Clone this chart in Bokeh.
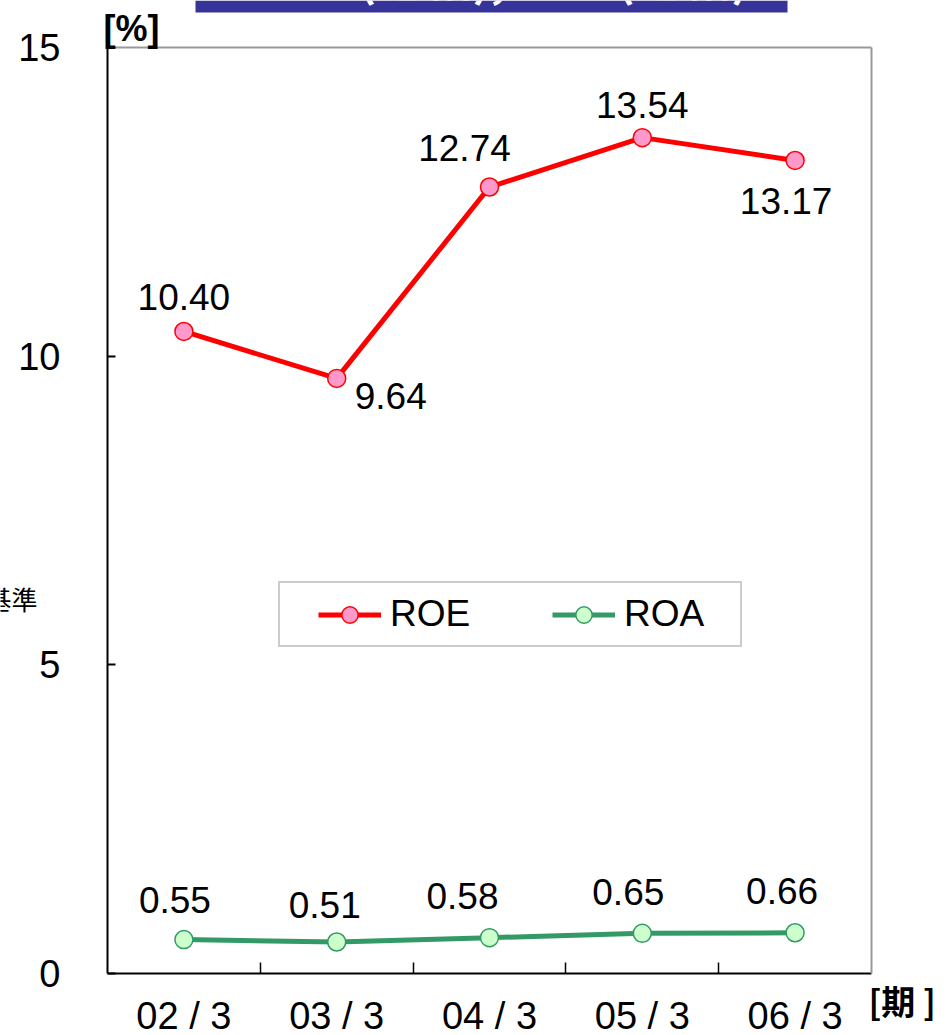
from bokeh.plotting import figure
from bokeh.models import (Range1d, FixedTicker, Legend, LegendItem, ColumnDataSource,
                          Label, BoxAnnotation, LinearAxis)
from bokeh.core.properties import value
from bokeh.embed import file_html
from bokeh.resources import INLINE

# ---------------- data ----------------
categories = ["02/3", "03/3", "04/3", "05/3", "06/3"]
category_labels = ["02 / 3", "03 / 3", "04 / 3", "05 / 3", "06 / 3"]
roe = [10.40, 9.64, 12.74, 13.54, 13.17]
roa = [0.55, 0.51, 0.58, 0.65, 0.66]
y_ticks = [0, 5, 10, 15]
y_max = 15
series_names = ["ROE", "ROA"]

# ---------------- label placement (screen px, down positive) ----------------
roe_dx = [0, 54, -25, 0, -9]
roe_dy = [-34, 18, -39, -33, 41]
roa_dx = [-9, -12, -27, -14, -13]
roa_dy = [-40, -37, -42, -41, -42]

# ---------------- geometry (px) ----------------
W, H = 951, 1035
FL, FR, FT, FB = 107, 871, 47, 973      # plot box inside the canvas
FONT = "Liberation Sans"
JP = "Noto Sans CJK JP"

n = len(categories)
xs = [i + 0.5 for i in range(n)]
kx = (FR - FL) / n
ky = (FB - FT) / y_max

p = figure(width=W, height=H, output_backend="svg", toolbar_location=None,
           x_range=Range1d(-FL / kx, (W - FL) / kx),
           y_range=Range1d(-(H - FB) / ky, FB / ky),
           x_axis_location=None, y_axis_location=None,
           min_border=0, min_border_left=0, min_border_right=0,
           min_border_top=0, min_border_bottom=0,
           background_fill_color="white", border_fill_color="white")
p.title.visible = False
p.outline_line_color = None
p.grid.visible = False

# box top / right (grey)
top_ax = LinearAxis(fixed_location=y_max, bounds=(0, n), ticker=FixedTicker(ticks=[]),
                    axis_line_color="#999999", axis_line_width=2,
                    major_tick_line_color=None, minor_tick_line_color=None,
                    major_label_text_alpha=0)
right_ax = LinearAxis(fixed_location=n, bounds=(0, y_max), ticker=FixedTicker(ticks=[]),
                      axis_line_color="#999999", axis_line_width=2,
                      major_tick_line_color=None, minor_tick_line_color=None,
                      major_label_text_alpha=0)
p.add_layout(top_ax, "above")
p.add_layout(right_ax, "right")

# x axis: labels at category centres, ticks at boundaries (minor ticks)
xa = LinearAxis(fixed_location=0, bounds=(0, n),
                ticker=FixedTicker(ticks=xs, minor_ticks=list(range(1, n))))
xa.major_label_overrides = {x: lab for x, lab in zip(xs, category_labels)}
xa.major_tick_in = 0
xa.major_tick_out = 0
xa.minor_tick_in = 11
xa.minor_tick_out = 0
xa.minor_tick_line_color = "black"
xa.minor_tick_line_width = 1.5
xa.axis_line_color = "black"
xa.axis_line_width = 2
xa.major_label_text_font = FONT
xa.major_label_text_font_size = "38px"
xa.major_label_text_color = "black"
xa.major_label_standoff = 21
p.add_layout(xa, "below")

ya = LinearAxis(fixed_location=0, bounds=(0, y_max), ticker=FixedTicker(ticks=y_ticks))
ya.major_tick_in = 8
ya.major_tick_out = 0
ya.major_tick_line_color = "black"
ya.major_tick_line_width = 2
ya.minor_tick_line_color = None
ya.axis_line_color = "black"
ya.axis_line_width = 2
ya.major_label_text_font = FONT
ya.major_label_text_font_size = "38px"
ya.major_label_text_color = "black"
ya.major_label_standoff = 47
p.add_layout(ya, "left")

# ---------------- series ----------------
src = ColumnDataSource(dict(x=xs, roe=roe, roa=roa,
                            roe_lab=[f"{v:.2f}" for v in roe],
                            roa_lab=[f"{v:.2f}" for v in roa],
                            roe_dx=roe_dx, roe_dy=roe_dy,
                            roa_dx=roa_dx, roa_dy=roa_dy))

roe_line = p.line("x", "roe", source=src, line_color="#FF0000", line_width=5)
roe_pts = p.scatter("x", "roe", source=src, size=18, fill_color="#FF99CC",
                    line_color="#FF0000", line_width=1.5)
roa_line = p.line("x", "roa", source=src, line_color="#339966", line_width=5)
roa_pts = p.scatter("x", "roa", source=src, size=18, fill_color="#CCFFCC",
                    line_color="#339966", line_width=1.5)

p.text("x", "roe", text="roe_lab", source=src, x_offset="roe_dx", y_offset="roe_dy",
       text_font=value(FONT), text_font_size="37px", text_color="black",
       text_align="center", text_baseline="middle")
p.text("x", "roa", text="roa_lab", source=src, x_offset="roa_dx", y_offset="roa_dy",
       text_font=value(FONT), text_font_size="37px", text_color="black",
       text_align="center", text_baseline="middle")

legend_kw = dict(orientation="horizontal", location=(278, H - 647), margin=0,
                 padding=10, spacing=56, glyph_width=63, glyph_height=41,
                 label_width=106, label_standoff=9,
                 label_text_font=FONT, label_text_font_size="37px",
                 label_text_color="black",
                 border_line_color="#999999", border_line_width=2,
                 background_fill_color="white", background_fill_alpha=1)
if "title_location" in Legend.properties():
    legend_kw.update(title=" ", title_location="left", title_standoff=27,
                     title_text_font_size="1px")
legend = Legend(items=[LegendItem(label=series_names[0], renderers=[roe_line, roe_pts]),
                       LegendItem(label=series_names[1], renderers=[roa_line, roa_pts])],
                **legend_kw)
p.add_layout(legend)

# ---------------- decorations ----------------
bar = BoxAnnotation(left=195, right=787, top=H, bottom=H - 12,
                    left_units="screen", right_units="screen",
                    top_units="screen", bottom_units="screen",
                    fill_color="#363399", fill_alpha=1, line_alpha=0)
p.add_layout(bar)
p.add_layout(Label(x=509, y=H + 26, x_units="screen", y_units="screen",
                   text="ROE(連結),  ROA(連結)", text_font=JP, text_font_style="bold",
                   text_font_size="48px", text_color="white",
                   text_align="center", text_baseline="alphabetic"))
p.add_layout(Label(x=103, y=H - 28, x_units="screen", y_units="screen",
                   text="[%]", text_font=FONT, text_font_style="bold",
                   text_font_size="36px", text_color="black",
                   text_align="left", text_baseline="middle"))
p.add_layout(Label(x=868, y=H - 1000, x_units="screen", y_units="screen",
                   text="[期 ]", text_font=JP, text_font_style="bold",
                   text_font_size="34px", text_color="black",
                   text_align="left", text_baseline="middle"))
p.add_layout(Label(x=37, y=H - 598, x_units="screen", y_units="screen",
                   text="基準", text_font=JP,
                   text_font_size="26px", text_color="black",
                   text_align="right", text_baseline="middle"))

open("out.html", "w").write(file_html(p, INLINE))
